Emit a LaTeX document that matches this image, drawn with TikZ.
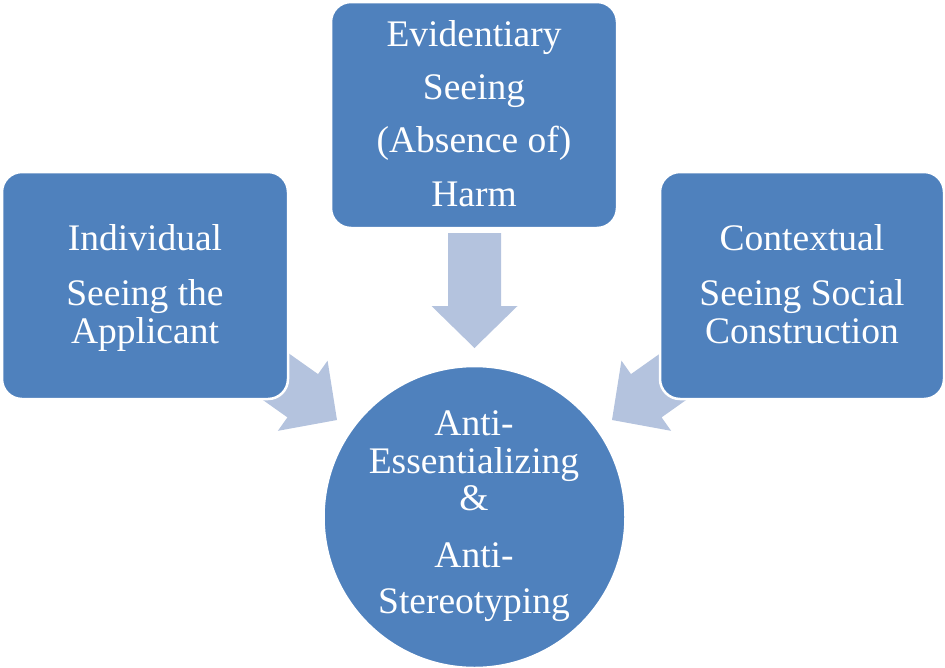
\documentclass[tikz,border=0pt]{standalone}
\usepackage{fontspec}
\setmainfont{Liberation Serif}
\definecolor{boxblue}{RGB}{79,129,189}
\definecolor{arrowblue}{RGB}{180,195,222}
\tikzset{
  boxshape/.style={draw=white, line width=2.5pt, fill=boxblue, rounded corners=20pt, rectangle, inner sep=0pt},
  lbl/.style={text=white, anchor=base, inner sep=0pt, font=\fontsize{37.5}{39}\selectfont},
  pics/blockarrow/.style={code={
    \fill[arrowblue] (-115,-26.5) -- (-42,-26.5) -- (-42,-43) -- (0,0) -- (-42,43) -- (-42,26.5) -- (-115,26.5) -- cycle;
  }}
}
\begin{document}
\begin{tikzpicture}[x=1pt,y=-1pt]
\useasboundingbox (0,0) rectangle (945,667);
% arrows (behind boxes)
\pic[shift={(474.5,348)}, rotate=-90] (arrtop) {blockarrow};
\pic[shift={(337,420)}, rotate=-35.3] (arrleft) {blockarrow};
\pic[shift={(612,420)}, rotate=-144.7] (arrright) {blockarrow};
% boxes
\node[boxshape, minimum width=286pt, minimum height=227pt] (leftbox) at (145,285.5) {};
\node[boxshape, minimum width=286pt, minimum height=226pt] (topbox) at (474,115) {};
\node[boxshape, minimum width=284pt, minimum height=227pt] (rightbox) at (802,285.5) {};
\node[draw=white, line width=2.5pt, fill=boxblue, circle, minimum size=302pt, inner sep=0pt] (center) at (474.5,517) {};
% left text
\node[lbl] (l1) at (145,250) {Individual};
\node[lbl] (l2) at (145,305) {Seeing the};
\node[lbl] (l3) at (145,343) {Applicant};
% top text
\node[lbl] (t1) at (474,46) {Evidentiary};
\node[lbl] (t2) at (474,99) {Seeing};
\node[lbl] (t3) at (474,152) {(Absence of)};
\node[lbl] (t4) at (474,206) {Harm};
% right text
\node[lbl] (r1) at (802,250) {Contextual};
\node[lbl] (r2) at (802,305) {Seeing Social};
\node[lbl] (r3) at (802,343) {Construction};
% circle text
\node[lbl] (c1) at (474,435) {Anti-};
\node[lbl] (c2) at (474,473) {Essentializing};
\node[lbl] (c3) at (474,510) {\&};
\node[lbl] (c4) at (474,567) {Anti-};
\node[lbl] (c5) at (474,613) {Stereotyping};
\end{tikzpicture}
\end{document}
